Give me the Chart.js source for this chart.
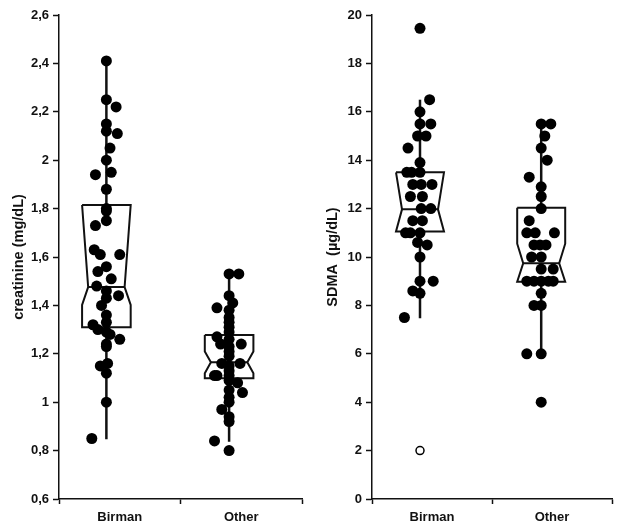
<!DOCTYPE html>
<html><head><meta charset="utf-8">
<script src="https://cdn.jsdelivr.net/npm/chart.js@4"></script>
<style>
html,body{margin:0;padding:0;background:#fff;}
#wrap{position:relative;width:620px;height:531px;background:#fff;}
.c{position:absolute;top:0;width:310px;height:531px;}
</style></head><body>
<div id="wrap">
<div class="c" style="left:0"><canvas id="c1" width="310" height="531"></canvas></div>
<div class="c" style="left:310px"><canvas id="c2" width="310" height="531"></canvas></div>
</div>
<script>
// ---------- DATA ----------
const categories = ['Birman', 'Other'];

// Panel 1: creatinine (mg/dL)
const creatTicks = [0.6, 0.8, 1.0, 1.2, 1.4, 1.6, 1.8, 2.0, 2.2, 2.4, 2.6];
const creatTickLabels = ['0,6', '0,8', '1', '1,2', '1,4', '1,6', '1,8', '2', '2,2', '2,4', '2,6'];
const creatBirman = [2.41, 2.25, 2.22, 2.15, 2.12, 2.11, 2.05, 2.00, 1.94, 1.95, 1.88, 1.80, 1.79, 1.75, 1.73,
  1.63, 1.61, 1.61, 1.56, 1.54, 1.51, 1.48, 1.46, 1.43, 1.44, 1.40, 1.36, 1.33, 1.32, 1.30, 1.29, 1.28, 1.26,
  1.24, 1.23, 1.15, 1.16, 1.12, 1.00, 0.85];
const creatBirmanJitter = [0, 0, 0.08, 0, 0, 0.09, 0.03, 0, -0.09, 0.04, 0, 0, 0, 0, -0.09,
  -0.1, -0.05, 0.11, 0, -0.07, 0.04, -0.08, 0, 0, 0.1, -0.04, 0, 0, -0.11, -0.07, 0, 0.03, 0.11,
  0, 0, -0.05, 0.01, 0, 0, -0.12];
const creatOther = [1.53, 1.53, 1.44, 1.41, 1.39, 1.38, 1.35, 1.33, 1.31, 1.29, 1.27, 1.26, 1.24, 1.23, 1.24,
  1.21, 1.19, 1.16, 1.16, 1.15, 1.13, 1.11, 1.11, 1.11, 1.09, 1.08, 1.05, 1.04, 1.02, 1.00, 0.97, 0.94,
  0.92, 0.84, 0.80];
const creatOtherJitter = [0, 0.08, 0, 0.03, -0.1, 0, 0, 0, 0, 0, -0.1, 0, -0.07, 0, 0.1,
  0, 0, -0.06, 0.09, 0, 0, -0.12, -0.1, 0, 0, 0.07, 0, 0.11, 0, 0, -0.06, 0,
  0, -0.12, 0];
const creatQ1 = [1.31, 1.099];
const creatMedian = [1.476, 1.165];
const creatQ3 = [1.815, 1.278];
const creatNotchLow = [1.402, 1.12];
const creatNotchHigh = [1.815, 1.21];
const creatWhiskerLow = [0.847, 0.837];
const creatWhiskerHigh = [2.41, 1.527];
const creatOutliers = [[], []];

// Panel 2: SDMA (µg/dL)
const sdmaTicks = [0, 2, 4, 6, 8, 10, 12, 14, 16, 18, 20];
const sdmaTickLabels = ['0', '2', '4', '6', '8', '10', '12', '14', '16', '18', '20'];
const sdmaBirman = [19.45, 16.5, 16.0, 15.5, 15.5, 15.0, 15.0, 14.5, 13.9, 13.5, 13.5, 13.5, 13.0, 13.0, 13.0,
  12.5, 12.5, 12.0, 12.0, 11.5, 11.5, 11.0, 11.0, 11.0, 10.6, 10.5, 10.0, 9.0, 9.0, 8.6, 8.5, 7.5];
const sdmaBirmanJitter = [0, 0.08, 0, 0, 0.09, -0.02, 0.05, -0.1, 0, -0.11, -0.07, 0, -0.06, 0.01, 0.1,
  -0.08, 0.02, 0.01, 0.09, -0.06, 0.02, -0.12, -0.08, 0, -0.02, 0.06, 0, 0, 0.11, -0.06, 0, -0.13];
const sdmaOther = [15.5, 15.5, 15.0, 14.5, 14.0, 13.3, 12.9, 12.5, 12.0, 11.5, 11.0, 11.0, 11.0, 10.5, 10.5,
  10.5, 10.0, 10.0, 9.5, 9.5, 9.0, 9.0, 9.0, 9.0, 9.0, 8.5, 8.0, 8.0, 6.0, 6.0, 4.0];
const sdmaOtherJitter = [0, 0.08, 0.03, 0, 0.05, -0.1, 0, 0, 0, -0.1, -0.12, -0.05, 0.11, -0.06, -0.01,
  0.04, -0.08, 0, 0, 0.1, -0.12, -0.06, 0, 0.06, 0.1, 0, -0.06, 0, -0.12, 0, 0];
const sdmaQ1 = [11.05, 8.98];
const sdmaMedian = [11.97, 9.74];
const sdmaQ3 = [13.5, 12.04];
const sdmaNotchLow = [11.05, 8.98];
const sdmaNotchHigh = [13.5, 10.55];
const sdmaWhiskerLow = [7.47, 5.95];
const sdmaWhiskerHigh = [16.5, 15.48];
const sdmaOutliers = [[2.0], []];

// ---------- DRAWING ----------
const FONT = "'Liberation Sans', Arial, sans-serif";
const BOX_HALF = 0.2, NOTCH_HALF = 0.15;

function boxDatasets(center, q1, med, q3, nLo, nHi, wLo, wHi) {
  const outline = [
    {x: center - BOX_HALF, y: q3}, {x: center + BOX_HALF, y: q3},
    {x: center + BOX_HALF, y: nHi}, {x: center + NOTCH_HALF, y: med},
    {x: center + BOX_HALF, y: nLo}, {x: center + BOX_HALF, y: q1},
    {x: center - BOX_HALF, y: q1}, {x: center - BOX_HALF, y: nLo},
    {x: center - NOTCH_HALF, y: med}, {x: center - BOX_HALF, y: nHi},
    {x: center - BOX_HALF, y: q3}
  ];
  const lineStyle = {type: 'scatter', showLine: true, pointRadius: 0, borderColor: '#111', fill: false, tension: 0};
  return [
    Object.assign({data: outline, borderWidth: 2, order: 2}, lineStyle),
    Object.assign({data: [{x: center - NOTCH_HALF, y: med}, {x: center + NOTCH_HALF, y: med}], borderWidth: 2, order: 2}, lineStyle),
    Object.assign({data: [{x: center, y: q3}, {x: center, y: wHi}], borderWidth: 2.5, order: 2}, lineStyle),
    Object.assign({data: [{x: center, y: q1}, {x: center, y: wLo}], borderWidth: 2.5, order: 2}, lineStyle)
  ];
}

function pointsDataset(center, vals, jit) {
  return {
    type: 'scatter', order: 1,
    data: vals.map((v, i) => ({x: center + jit[i], y: v})),
    pointRadius: 5.5, pointHoverRadius: 5.5, backgroundColor: '#000', borderWidth: 0, showLine: false
  };
}
function outlierDataset(center, vals) {
  return {
    type: 'scatter', order: 0,
    data: vals.map(v => ({x: center, y: v})),
    pointRadius: 4, backgroundColor: '#fff', borderColor: '#000', borderWidth: 1.5, showLine: false
  };
}

function makeChart(id, opts) {
  const ds = [];
  opts.centers.forEach((c, k) => {
    ds.push(...boxDatasets(c, opts.q1[k], opts.med[k], opts.q3[k], opts.nLo[k], opts.nHi[k], opts.wLo[k], opts.wHi[k]));
    ds.push(pointsDataset(c, opts.series[k], opts.jitter[k]));
    ds.push(outlierDataset(c, opts.outliers[k]));
  });
  return new Chart(document.getElementById(id), {
    type: 'scatter',
    data: {datasets: ds},
    options: {
      responsive: false, animation: false, devicePixelRatio: 1,
      layout: {padding: {top: 15, right: 8, left: 0, bottom: 0}},
      plugins: {legend: {display: false}, tooltip: {enabled: false}},
      scales: {
        x: {
          type: 'linear', min: 0, max: 2,
          afterBuildTicks: s => { s.ticks = [0, 0.5, 1, 1.5, 2].map(v => ({value: v})); },
          afterFit: s => { s.height = 32; },
          grid: {drawOnChartArea: false, drawTicks: true, tickLength: 5, tickWidth: 1.5,
            tickColor: ctx => (ctx.tick && Number.isInteger(ctx.tick.value)) ? '#111' : 'rgba(0,0,0,0)'},
          border: {color: '#111', width: 1.5},
          ticks: {
            autoSkip: false, maxRotation: 0, padding: 6, color: '#111',
            font: {family: FONT, size: 13, weight: 'bold'},
            callback: v => v === 0.5 ? categories[0] : (v === 1.5 ? categories[1] : '')
          }
        },
        y: {
          type: 'linear', min: opts.ticks[0], max: opts.ticks[opts.ticks.length - 1],
          afterBuildTicks: s => { s.ticks = opts.ticks.map(v => ({value: v})); },
          afterFit: s => { s.width = opts.yWidth; },
          grid: {drawOnChartArea: false, drawTicks: true, tickLength: 6, tickWidth: 1.5, tickColor: '#111'},
          border: {color: '#111', width: 1.5},
          ticks: {
            autoSkip: false, padding: 4, color: '#111',
            font: {family: FONT, size: 13, weight: 'bold'},
            callback: (v, i) => opts.tickLabels[i]
          },
          title: {display: true, text: opts.title, color: '#111',
            font: {family: FONT, size: 14.5, weight: 'bold'}, padding: {top: opts.titlePad, bottom: 0}}
        }
      }
    }
  });
}

makeChart('c1', {
  centers: [0.39, 1.4],
  series: [creatBirman, creatOther], jitter: [creatBirmanJitter, creatOtherJitter],
  q1: creatQ1, med: creatMedian, q3: creatQ3, nLo: creatNotchLow, nHi: creatNotchHigh,
  wLo: creatWhiskerLow, wHi: creatWhiskerHigh, outliers: creatOutliers,
  ticks: creatTicks, tickLabels: creatTickLabels, title: 'creatinine (mg/dL)', yWidth: 59, titlePad: 10
});
makeChart('c2', {
  centers: [0.4, 1.41],
  series: [sdmaBirman, sdmaOther], jitter: [sdmaBirmanJitter, sdmaOtherJitter],
  q1: sdmaQ1, med: sdmaMedian, q3: sdmaQ3, nLo: sdmaNotchLow, nHi: sdmaNotchHigh,
  wLo: sdmaWhiskerLow, wHi: sdmaWhiskerHigh, outliers: sdmaOutliers,
  ticks: sdmaTicks, tickLabels: sdmaTickLabels, title: 'SDMA  (µg/dL)', yWidth: 62, titlePad: 14
});
</script>
</body></html>
